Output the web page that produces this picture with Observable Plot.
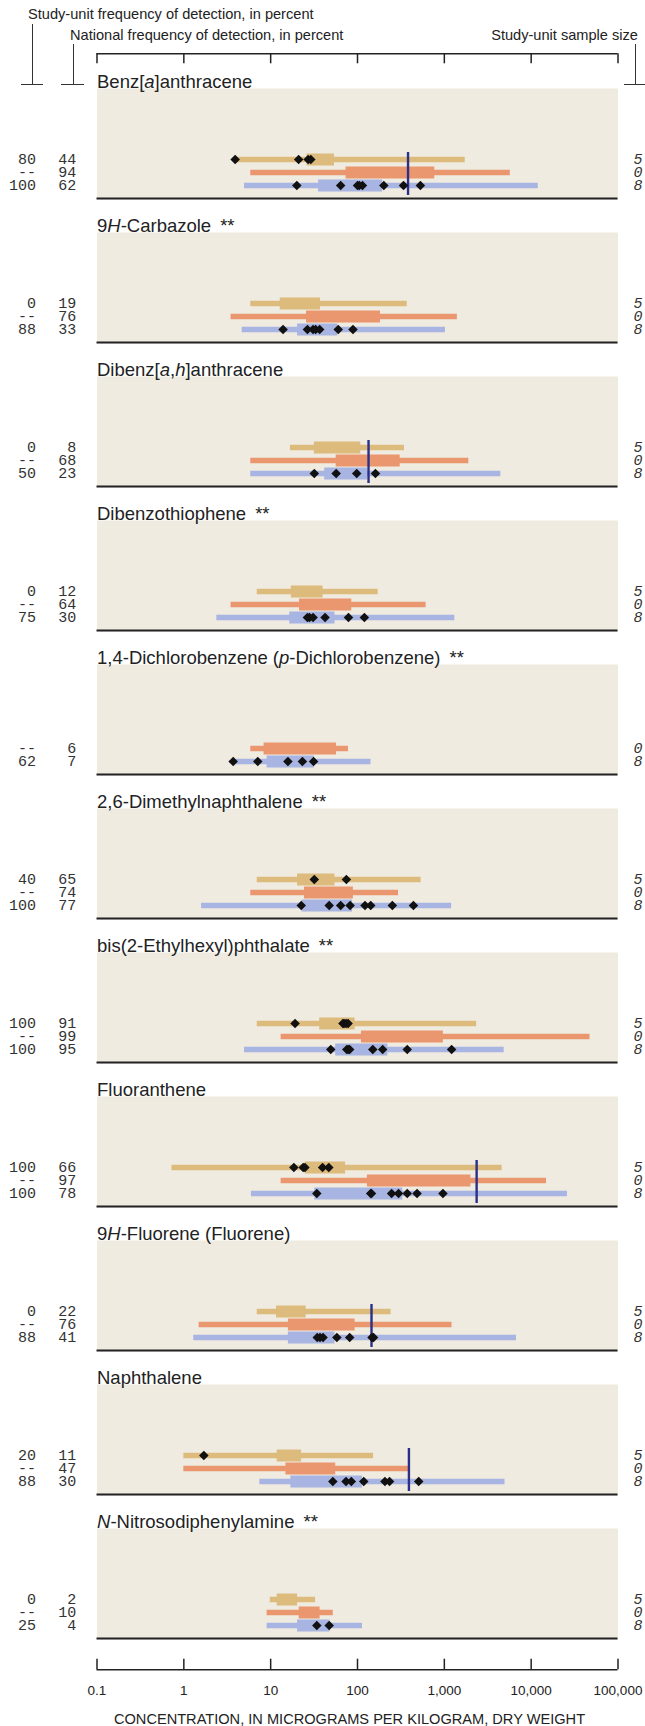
<!DOCTYPE html>
<html><head><meta charset="utf-8">
<script src="https://cdn.jsdelivr.net/npm/d3@7"></script>
<script src="https://cdn.jsdelivr.net/npm/@observablehq/plot@0.6"></script>
<style>
body{margin:0;background:#fff;}
#root{position:relative;width:645px;height:1726px;font-family:"Liberation Sans",Arial,sans-serif;color:#222;overflow:hidden;}
#root svg{position:absolute;left:0;}
.hdr{position:absolute;font-size:14.6px;white-space:nowrap;line-height:1;color:#222;}
.v{position:absolute;width:0;border-left:1.4px solid #333;}
.h{position:absolute;height:0;border-top:1.4px solid #333;}
</style></head><body><div id="root"></div>
<script>
// ---------- DATA ----------
const compounds = [
  "Benz[_a_]anthracene",
  "9_H_-Carbazole **",
  "Dibenz[_a_,_h_]anthracene",
  "Dibenzothiophene **",
  "1,4-Dichlorobenzene (_p_-Dichlorobenzene) **",
  "2,6-Dimethylnaphthalene **",
  "bis(2-Ethylhexyl)phthalate **",
  "Fluoranthene",
  "9_H_-Fluorene (Fluorene)",
  "Naphthalene",
  "_N_-Nitrosodiphenylamine **"
];
const rowKeys = ["A", "B", "C"];
const rowColors = ["#dcbb7c", "#ea976f", "#a8b5e2"];

const studyFreq = [
  ["80","--","100"],["0","--","88"],["0","--","50"],["0","--","75"],[null,"--","62"],
  ["40","--","100"],["100","--","100"],["100","--","100"],["0","--","88"],["20","--","88"],["0","--","25"]
];
const nationalFreq = [
  [44,94,62],[19,76,33],[8,68,23],[12,64,30],[null,6,7],[65,74,77],[91,99,95],[66,97,78],[22,76,41],[11,47,30],[2,10,4]
];
const sampleSize = [
  [5,0,8],[5,0,8],[5,0,8],[5,0,8],[null,0,8],[5,0,8],[5,0,8],[5,0,8],[5,0,8],[5,0,8],[5,0,8]
];
const rangeLow = [
  [3.9, 5.9, 5.0],[5.9, 3.5, 4.7],[16.9, 5.9, 5.9],[7.0, 3.5, 2.4],[null, 5.9, 3.7],[7.0, 5.9, 1.6],
  [7.0, 13.2, 5.0],[0.73, 13.2, 6.0],[7.0, 1.5, 1.3],[1.0, 1.0, 7.5],[9.9, 9.1, 9.1]
];
const rangeHigh = [
  [1740, 5750, 12080],[374, 1413, 1030],[347, 1914, 4477],[173, 617, 1321],[null, 78.7, 143],[541, 297, 1213],
  [2355, 47600, 4887],[4634, 15030, 26180],[244, 1225, 6776],[153, 404, 5000],[32.9, 52.6, 114]
];
const boxLow = [
  [26.2, 73.8, 35.6],[12.9, 25.9, 20.4],[31.8, 56.8, 41.9],[17.3, 21.5, 16.6],[null, 8.4, 9.1],[20.4, 24.5, 23.0],
  [36.7, 111, 56.1],[25.1, 130, 32.2],[11.7, 16.0, 16.0],[11.9, 15.0, 17.1],[11.9, 21.3, 20.4]
];
const boxHigh = [
  [54.3, 776, 194.5],[37.5, 184, 59.3],[109, 310, 131],[40.1, 85.9, 55.0],[null, 57.4, 31.8],[55.0, 89.7, 87.7],
  [93.8, 975, 224],[72.9, 2023, 332],[25.6, 93.8, 55.0],[22.7, 56.1, 114],[20.4, 37.1, 48.2]
];
const detectionsA = [
  [3.9, 21, 27, 29],[],[],[],[],[31.8, 74.5],[19.1, 68, 70, 74, 78],[18.5, 23.7, 24.8, 39.6, 46.7],[],[1.7],[]
];
const detectionsC = [
  [20, 64, 100, 105, 114, 201, 339, 530],
  [13.9, 26.5, 30.8, 33, 36.7, 60, 88.7],
  [31.8, 56.8, 98, 161],
  [26.5, 28, 30.8, 42.3, 78.7, 120],
  [3.7, 7.1, 15.8, 23.2, 31.2],
  [22.5, 47.2, 64, 82.2, 122, 142, 252, 441],
  [49.2, 75.3, 78, 81.3, 150, 195, 374, 1213],
  [34, 142, 145, 247, 297, 374, 485, 964],
  [34.4, 37, 40.1, 57.9, 81.3, 147, 153],
  [52, 73.8, 84.9, 118, 207, 234, 507],
  [34, 47.2]
];
const guideline = [382, null, 134, null, null, null, null, 2355, 145, 391, null];
const xTicks = [0.1, 1, 10, 100, 1000, 10000, 100000];
const xTickLabels = ["0.1", "1", "10", "100", "1,000", "10,000", "100,000"];
const axisTitle = "CONCENTRATION, IN MICROGRAMS PER KILOGRAM, DRY WEIGHT";
const headerStudy = "Study-unit frequency of detection, in percent";
const headerNational = "National frequency of detection, in percent";
const headerSample = "Study-unit sample size";

// ---------- TABLES ----------
const rows = [];
compounds.forEach((c, i) => rowKeys.forEach((k, j) => {
  if (rangeLow[i][j] == null) return;
  rows.push({c, k, lo: rangeLow[i][j], hi: rangeHigh[i][j], q1: boxLow[i][j], q3: boxHigh[i][j],
    s: studyFreq[i][j], n: String(nationalFreq[i][j]), z: String(sampleSize[i][j])});
}));
const dets = [];
compounds.forEach((c, i) => {
  detectionsA[i].forEach(v => dets.push({c, k: "A", v}));
  detectionsC[i].forEach(v => dets.push({c, k: "C", v}));
});
const guides = compounds.map((c, i) => ({c, v: guideline[i]})).filter(d => d.v != null);

const W = 645, ML = 96.5, MR = 27.5;
const xOpts = {type: "log", domain: [0.1, 100000], axis: null};
const mono = "Liberation Mono, DejaVu Sans Mono, monospace";
const sans = "Liberation Sans, Arial, sans-serif";
const numSize = 15;

const main = Plot.plot({
  width: W, height: 1650,
  marginLeft: ML, marginRight: MR, marginTop: 86, marginBottom: 8.7,
  style: {background: "transparent", overflow: "visible", fontFamily: sans},
  x: xOpts,
  y: {type: "point", domain: [...rowKeys, "base"], axis: null, padding: 0, insetTop: 69.3, insetBottom: 0},
  fy: {domain: compounds, axis: null, paddingInner: 0.2313, paddingOuter: 0},
  color: {domain: rowKeys, range: rowColors},
  marks: [
    Plot.frame({fill: "#efebe1", stroke: "none"}),
    Plot.ruleY(rows, {fy: "c", y: "k", x1: "lo", x2: "hi", stroke: "k", strokeWidth: 5.5}),
    Plot.ruleY(rows, {fy: "c", y: "k", x1: "q1", x2: "q3", stroke: "k", strokeWidth: 12}),
    Plot.ruleX(guides, {fy: "c", x: "v", y1: () => "A", y2: () => "base", stroke: "#2c2f87", strokeWidth: 2.4, insetTop: -7, insetBottom: 3}),
    Plot.dot(dets, {fy: "c", x: "v", y: "k", symbol: "diamond2", r: 4.3, fill: "#111", stroke: "none"}),
    Plot.ruleY(compounds, {fy: d => d, y: () => "base", stroke: "#222", strokeWidth: 1.8}),
    Plot.text(rows, {fy: "c", y: "k", text: "s", frameAnchor: "left", dx: -61, textAnchor: "end", fontFamily: mono, fontSize: numSize, fill: "#333"}),
    Plot.text(rows, {fy: "c", y: "k", text: "n", frameAnchor: "left", dx: -20.8, textAnchor: "end", fontFamily: mono, fontSize: numSize, fill: "#333"}),
    Plot.text(rows, {fy: "c", y: "k", text: "z", frameAnchor: "right", dx: 15.5, textAnchor: "start", fontFamily: mono, fontStyle: "italic", fontSize: numSize, fill: "#333"}),
    Plot.text(compounds, {fy: d => d, text: d => d, frameAnchor: "top-left", lineAnchor: "bottom", dy: -1, textAnchor: "start", fontFamily: sans, fontSize: 18.5, fill: "#222"})
  ]
});
main.style.top = "0px";

// rich text (italics, asterisks) for titles
const titleSet = new Set(compounds);
d3.select(main).selectAll("text").filter(function () { return titleSet.has(this.textContent); }).each(function () {
  let s = this.textContent;
  const sel = d3.select(this);
  let star = false;
  if (s.endsWith(" **")) { s = s.slice(0, -3); star = true; }
  sel.text(null);
  s.split("_").forEach((part, i) => {
    if (part) sel.append("tspan").attr("font-style", i % 2 ? "italic" : null).text(part);
  });
  if (star) sel.append("tspan").attr("dx", 9).text("**");
});

const topAxis = Plot.plot({
  width: W, height: 64, marginLeft: ML, marginRight: MR, marginTop: 53.3, marginBottom: 0.7,
  style: {background: "transparent", overflow: "visible"},
  x: xOpts, y: {domain: [0, 1], axis: null},
  marks: [
    Plot.ruleY([1], {stroke: "#222", strokeWidth: 1.5}),
    Plot.tickX(xTicks, {x: d => d, stroke: "#222", strokeWidth: 1.5})
  ]
});
topAxis.style.top = "0px";

const bottomAxis = Plot.plot({
  width: W, height: 76, marginLeft: ML, marginRight: MR, marginTop: 8.7, marginBottom: 56.7,
  style: {background: "transparent", overflow: "visible", fontFamily: sans},
  x: xOpts, y: {domain: [0, 1], axis: null},
  marks: [
    Plot.ruleY([0], {stroke: "#222", strokeWidth: 1.5}),
    Plot.tickX(xTicks, {x: d => d, stroke: "#222", strokeWidth: 1.5}),
    Plot.text(xTicks, {x: d => d, text: (d, i) => xTickLabels[i], frameAnchor: "bottom", dy: 25, fontSize: 13.5, fill: "#222"}),
    Plot.text([axisTitle], {frameAnchor: "bottom", dx: -8, dy: 54.5, fontSize: 14.6, fill: "#222"})
  ]
});
bottomAxis.style.top = "1650px";

const root = document.getElementById("root");
root.append(main, topAxis, bottomAxis);

function div(cls, css, text) {
  const d = document.createElement("div");
  d.className = cls; Object.assign(d.style, css);
  if (text) d.textContent = text;
  root.append(d);
}
div("hdr", {left: "28px", top: "6.9px"}, headerStudy);
div("hdr", {left: "70px", top: "27.9px"}, headerNational);
div("hdr", {right: "7px", top: "27.9px"}, headerSample);
div("v", {left: "32.2px", top: "24px", height: "61px"});
div("h", {left: "21.4px", top: "84.3px", width: "21.4px"});
div("v", {left: "72.5px", top: "44px", height: "41px"});
div("h", {left: "60.9px", top: "84.3px", width: "23px"});
div("v", {left: "634.6px", top: "44px", height: "41px"});
div("h", {left: "624px", top: "84.3px", width: "21px"});
</script></body></html>
